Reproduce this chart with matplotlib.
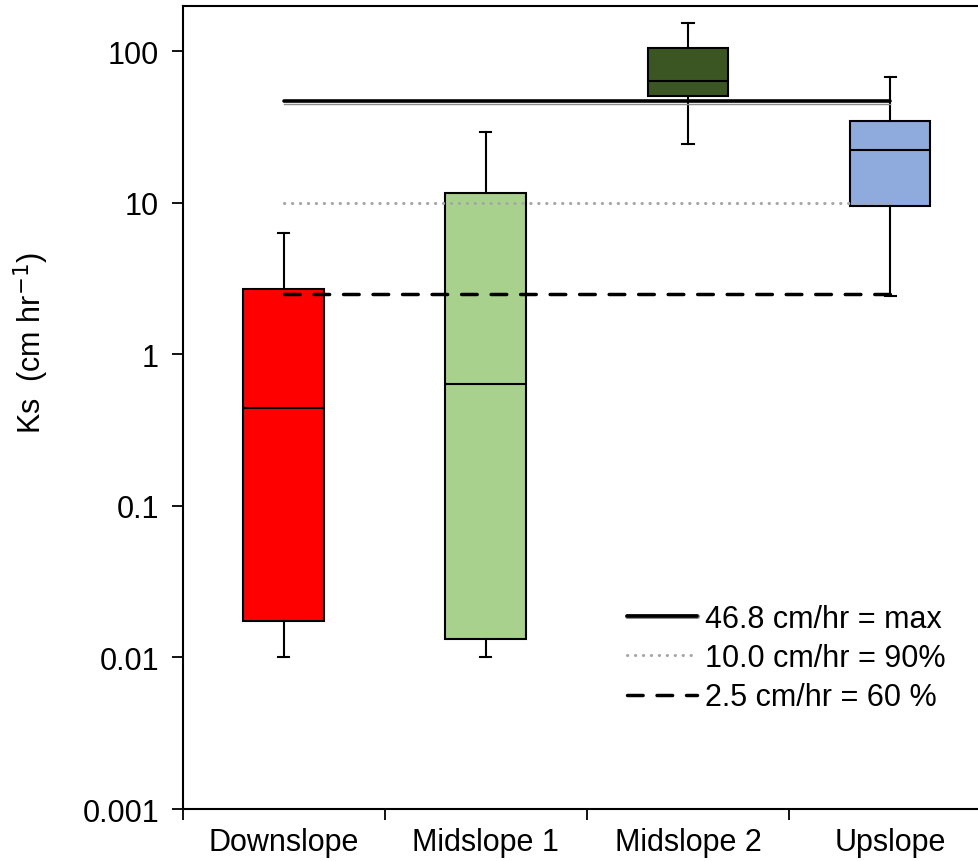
import matplotlib
matplotlib.use("Agg")
import matplotlib.pyplot as plt
from matplotlib.lines import Line2D
from matplotlib.legend_handler import HandlerTuple
from matplotlib.transforms import offset_copy

plt.rcParams['font.family'] = ['Liberation Sans', 'DejaVu Sans']

# box stats (cm/hr)
sites = ['Downslope', 'Midslope 1', 'Midslope 2', 'Upslope']
whis_lo = [0.01, 0.01, 24.3, 2.43]
q1 = [0.0175, 0.0132, 51, 9.5]
median = [0.44, 0.64, 64, 22.3]
q3 = [2.69, 11.7, 105, 34.6]
whis_hi = [6.37, 29.2, 153, 68]
colors = ['#ff0000', '#a9d18e', '#3b5623', '#8faadc']

# reference levels
ref_vals = [46.8, 10.0, 2.5]
ref_labels = ['46.8 cm/hr = max', '10.0 cm/hr = 90%', '2.5 cm/hr = 60 %']

FS = 22

fig = plt.figure(figsize=(9.79, 8.62), dpi=100)
ax = fig.add_axes([182.7/979, 52/862, 1 - 182.7/979, (810 - 6.7)/862])

pos = [i + 0.5 for i in range(len(sites))]
stats = []
for i in range(len(sites)):
    stats.append(dict(med=median[i], q1=q1[i], q3=q3[i], whislo=whis_lo[i], whishi=whis_hi[i], fliers=[]))

bp = ax.bxp(stats, positions=pos, widths=0.4, patch_artist=True, showfliers=False,
            boxprops=dict(linewidth=1.5, edgecolor='black'),
            medianprops=dict(color='black', linewidth=1.5),
            whiskerprops=dict(linewidth=1.5),
            capprops=dict(linewidth=1.5), capwidths=0.055)
for box, c in zip(bp['boxes'], colors):
    box.set_facecolor(c)

x0, x1 = pos[0], pos[-1]
# max line: black on top, thin grey shadow just under it
shadow = offset_copy(ax.transData, fig=fig, x=0, y=-2.5, units='dots')
ax.plot([x0, x1], [ref_vals[0], ref_vals[0]], color='#8c8c8c', lw=1.0, transform=shadow, zorder=4)
ax.plot([x0, x1], [ref_vals[0], ref_vals[0]], color='black', lw=2.6, solid_capstyle='round', zorder=4)
ax.plot([x0, x1], [ref_vals[1], ref_vals[1]], color='#a6a6a6', lw=2.2, linestyle=(0, (0.1, 2.5)),
        dash_capstyle='round', zorder=4)
ax.plot([x0, x1], [ref_vals[2], ref_vals[2]], color='black', lw=2.5, linestyle=(0, (4.5, 4)),
        dash_capstyle='round', zorder=4)

ax.set_yscale('log')
ax.set_ylim(0.001, 200)
ax.set_xlim(0, 3.94)
ax.set_yticks([0.001, 0.01, 0.1, 1, 10, 100])
ax.set_yticklabels(['0.001', '0.01', '0.1', '1', '10', '100'])
ax.yaxis.set_minor_locator(matplotlib.ticker.NullLocator())
ax.set_xticks([0, 1, 2, 3])
ax.set_xticklabels([])
ax.set_xticks(pos, minor=True)
ax.set_xticklabels(sites, minor=True)
ax.tick_params(axis='x', which='minor', length=0, pad=13, labelsize=FS)
ax.tick_params(axis='x', which='major', length=8, width=1.3, direction='out')
ax.tick_params(axis='y', length=8, width=1.3, direction='out', labelsize=FS, pad=9)
for s in ['left', 'bottom', 'top']:
    ax.spines[s].set_linewidth(1.5)
ax.spines['right'].set_visible(False)

ax.set_ylabel('Ks  (cm hr$^{-1}$)', fontsize=FS)
ax.yaxis.set_label_coords(-0.165, 0.581)

h_max = (Line2D([], [], color='#8c8c8c', lw=3.6, solid_capstyle='round'),
         Line2D([], [], color='black', lw=2.6, solid_capstyle='round'))
h_90 = Line2D([], [], color='#a6a6a6', lw=2.2, linestyle=(0, (0.1, 2.5)), dash_capstyle='round')
h_60 = Line2D([], [], color='black', lw=2.5, linestyle=(0, (4.5, 4)), dash_capstyle='round')
ax.legend([h_max, h_90, h_60], ref_labels, handler_map={tuple: HandlerTuple(ndivide=1, pad=0)},
          loc='upper left', bbox_to_anchor=(627/979, 1 - 605/862), bbox_transform=fig.transFigure,
          frameon=False, fontsize=FS, handlelength=2.3, handletextpad=0.25, labelspacing=0.3,
          borderpad=0, borderaxespad=0)

fig.savefig('out.png', dpi=100)
